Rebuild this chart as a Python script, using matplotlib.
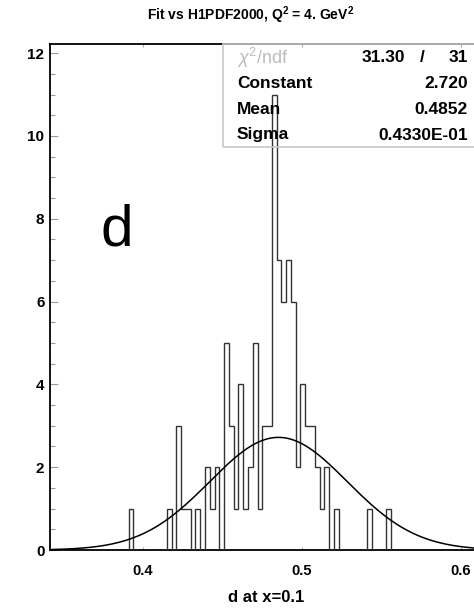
import numpy as np
import matplotlib
matplotlib.use("Agg")
import matplotlib.pyplot as plt
from matplotlib.patches import Rectangle
from matplotlib.ticker import MultipleLocator

plt.rcParams['font.family'] = ['Liberation Sans', 'DejaVu Sans']
plt.rcParams['mathtext.fontset'] = 'custom'
plt.rcParams['mathtext.rm'] = 'Liberation Sans'
plt.rcParams['mathtext.it'] = 'Liberation Sans:italic'
plt.rcParams['mathtext.bf'] = 'Liberation Sans:bold'

# histogram: bins of width 0.003 starting at 0.391
bin_start = 0.391
bin_width = 0.003
counts = [1, 0, 0, 0, 0, 0, 0, 0,        # 0.391 ..
          1, 0, 3, 1, 1, 0, 1, 0, 2, 1, 2, 0,   # 0.415 ..
          5, 3, 1, 4, 1, 2, 5, 1, 3, 3,         # 0.451 ..
          11, 7, 6, 7, 6, 2, 4, 3, 3, 2, 1, 2,  # 0.481 ..
          0, 1, 0, 0, 0, 0, 0, 0, 1, 0, 0, 0, 1]  # 0.517 ..

# gaussian fit parameters
fit_const = 2.720
fit_mean = 0.4852
fit_sigma = 0.4330E-01
chi2, ndf = 31.30, 31

stat_names = ['Constant', 'Mean', 'Sigma']
stat_values = ['2.720', '0.4852', '0.4330E-01']

edges = bin_start + bin_width * np.arange(len(counts) + 1)

W, H = 474, 608
fig = plt.figure(figsize=(W / 100, H / 100), dpi=100)
ax = fig.add_axes([50 / W, 58 / H, 450 / W, 506 / H])

ax.stairs(counts, edges, color='#333333', lw=1.0, zorder=3)

xs = np.linspace(0.3415, 0.6245, 500)
ax.plot(xs, fit_const * np.exp(-0.5 * ((xs - fit_mean) / fit_sigma) ** 2),
        color='black', lw=1.1, zorder=4)

ax.set_xlim(0.3415, 0.6245)
ax.set_ylim(0, 12.22)

ax.set_xticks([0.4, 0.5, 0.6])
ax.set_xticklabels(['0.4', '0.5', '0.6'])
ax.yaxis.set_major_locator(MultipleLocator(2))
ax.yaxis.set_minor_locator(MultipleLocator(0.5))
ax.tick_params(axis='y', which='major', direction='in', length=6, width=0.8,
               color='#999999', labelsize=11, pad=4)
ax.tick_params(axis='y', which='minor', direction='in', length=3.5, width=0.8,
               color='#999999')
ax.tick_params(axis='x', which='major', direction='in', length=2.5, width=0.8,
               color='#aaaaaa', labelsize=10.5, pad=10, top=True)
for lab in ax.get_xticklabels() + ax.get_yticklabels():
    lab.set_fontweight('bold')

for s in ['left', 'bottom', 'top']:
    ax.spines[s].set_linewidth(1.3)
    ax.spines[s].set_color('black')
ax.spines['right'].set_visible(False)

fig.text(251 / W, 1 - 15 / H, r'Fit vs H1PDF2000, Q$^\mathbf{2}$ = 4. GeV$^\mathbf{2}$',
         ha='center', va='center', fontsize=10, fontweight='bold')
fig.text(266 / W, 1 - 598 / H, 'd at x=0.1', ha='center', va='center',
         fontsize=12, fontweight='bold')
fig.text(117 / W, 1 - 246 / H, 'd', ha='center', va='baseline', fontsize=42)

# stats box
fig.patches.append(Rectangle((223 / W, 1 - 147 / H), 260 / W, 103 / H,
                             transform=fig.transFigure, fill=False,
                             edgecolor='#c8c8c8', lw=1.2, zorder=1))
fig.text(237 / W, 1 - 58 / H, r'$\chi^2$/ndf', ha='left', va='center',
         fontsize=13, color='#bbbbbb')
fig.text(405 / W, 1 - 57 / H, '%.2f' % chi2, ha='right', va='center',
         fontsize=12.5, fontweight='bold')
fig.text(422 / W, 1 - 57 / H, '/', ha='center', va='center',
         fontsize=12.5, fontweight='bold')
fig.text(468 / W, 1 - 57 / H, '%d' % ndf, ha='right', va='center',
         fontsize=12.5, fontweight='bold')
for i, (name, val) in enumerate(zip(stat_names, stat_values)):
    y = 1 - (84 + 25.5 * i) / H
    fig.text(237 / W, y, name, ha='left', va='center', fontsize=12.5,
             fontweight='bold')
    fig.text(468 / W, y, val, ha='right', va='center', fontsize=12.5,
             fontweight='bold')

fig.savefig('out.png', dpi=100)
